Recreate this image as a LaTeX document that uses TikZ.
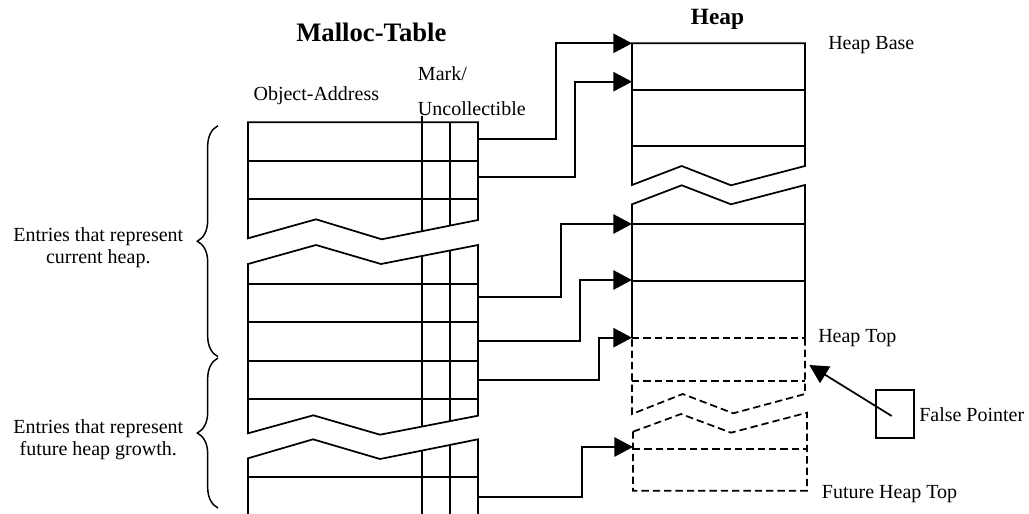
\documentclass[tikz,border=0pt]{standalone}
\usepackage{fontspec}
\setmainfont{Liberation Serif}
\usetikzlibrary{arrows.meta,decorations.pathreplacing}
\begin{document}
\begin{tikzpicture}[x=0.75pt,y=-0.75pt,
  ln/.style={line width=1.3pt},
  dsh/.style={line width=1.3pt, dash pattern=on 5.5pt off 3pt},
  conn/.style={line width=1.3pt, -{Triangle[length=14pt,width=14.5pt]}},
  lbl/.style={font=\fontsize{15}{18}\selectfont, inner sep=0pt, anchor=base west},
  clbl/.style={font=\fontsize{15}{18}\selectfont, inner sep=0pt, anchor=base},
  brc/.style={line width=1.1pt, decorate, decoration={brace, amplitude=15.5pt}}]
\useasboundingbox (0,0) rectangle (1029,514);

% ---------- Malloc table ----------
% block 1
\draw[ln] (248,238.3) -- (248,122.3) -- (478,122.3) -- (478,220) -- (381.7,239.3) -- (316,219.3) -- cycle;
\draw[ln] (248,160.7) -- (478,160.7);
\draw[ln] (248,199) -- (478,199);
\draw[ln] (421.7,115.7) -- (421.7,231.3);
\draw[ln] (450,122.3) -- (450,225.6);
% block 2
\draw[ln] (248,433.3) -- (248,264) -- (316,245) -- (381,264) -- (478,245) -- (478,415.7) -- (380,434.7) -- (313.3,415.3) -- cycle;
\foreach \yy in {284,322.3,360.7,399.3} \draw[ln] (248,\yy) -- (478,\yy);
\draw[ln] (421.7,256) -- (421.7,426.6);
\draw[ln] (450,250.5) -- (450,421.1);
% block 3
\draw[ln] (248,514) -- (248,458.3) -- (313,439.3) -- (380,459) -- (478,439.3) -- (478,514);
\draw[ln] (248,477.3) -- (478,477.3);
\draw[ln] (421.7,450.7) -- (421.7,514);
\draw[ln] (450,445) -- (450,514);

% ---------- Heap ----------
\draw[ln] (632,185) -- (632,43.3) -- (805,43.3) -- (805,166) -- (731,185.3) -- (681.7,166) -- cycle;
\draw[ln] (632,90.3) -- (805,90.3);
\draw[ln] (632,146) -- (805,146);
\draw[ln] (632,338.3) -- (632,204.3) -- (681.7,185.3) -- (731,204.3) -- (805,185) -- (805,338.3);
\draw[ln] (632,223.7) -- (805,223.7);
\draw[ln] (632,281) -- (805,281);
\draw[dsh] (632,338.3) -- (805,338.3);
\draw[dsh] (805,338.3) -- (805,394) -- (733.3,413.3) -- (682.7,394) -- (632,414) -- (632,338.3);
\draw[dsh] (632,381) -- (805,381);
\draw[dsh] (633,431.7) -- (681,414) -- (731,432.7) -- (807,412.7) -- (807,490.7) -- (633,490.7) -- cycle;
\draw[dsh] (633,449) -- (807,449);

% ---------- connectors ----------
\coordinate (t1) at (478,139);   \coordinate (b1) at (555.7,43.3); \coordinate (h1) at (632,43.3);
\coordinate (t2) at (478,177);   \coordinate (b2) at (575,81.7);   \coordinate (h2) at (632,81.7);
\coordinate (t3) at (478,297);   \coordinate (b3) at (560.7,224);  \coordinate (h3) at (632,224);
\coordinate (t4) at (478,341);   \coordinate (b4) at (580,280);    \coordinate (h4) at (632,280);
\coordinate (t5) at (478,380);   \coordinate (b5) at (599.3,337.7);\coordinate (h5) at (632,337.7);
\coordinate (t6) at (478,496.7); \coordinate (b6) at (582,447);    \coordinate (h6) at (633,447);
\foreach \i in {1,...,6} \draw[conn] (t\i) -| (b\i) -- (h\i);

% false pointer
\node[draw, line width=1.3pt, minimum width=28.7pt, minimum height=36.2pt, inner sep=0pt] (fp) at (895.2,414.2) {};
\coordinate (fpin) at (891.7,416);
\coordinate (fptip) at (809.3,365);
\draw[conn] (fpin) -- (fptip);

% ---------- braces ----------
\draw[brc] (218,356.7) -- (218,125.7);
\draw[brc] (218,508) -- (218,358);

% ---------- texts ----------
\node[inner sep=0pt, anchor=base west, font=\bfseries\fontsize{20}{24}\selectfont] (tmt) at (296,41) {Malloc-Table};
\node[inner sep=0pt, anchor=base west, font=\bfseries\fontsize{17.5}{21}\selectfont] (thp) at (690.7,24) {Heap};
\node[lbl] (toa) at (253.3,100) {Object-Address};
\node[lbl] (tmk) at (417.7,80) {Mark/};
\node[lbl] (tun) at (417.7,115) {Uncollectible};
\node[lbl] (thb) at (828,49.3) {Heap Base};
\node[lbl] (tht) at (818,342) {Heap Top};
\node[lbl] (tfp) at (919,421.7) {False Pointer};
\node[lbl] (tfh) at (821.7,498.3) {Future Heap Top};
\node[clbl] (te1) at (98.3,241.7) {Entries that represent};
\node[clbl] (te2) at (98.3,263) {current heap.};
\node[clbl] (te3) at (98.3,433.3) {Entries that represent};
\node[clbl] (te4) at (98.3,455) {future heap growth.};
\end{tikzpicture}
\end{document}
